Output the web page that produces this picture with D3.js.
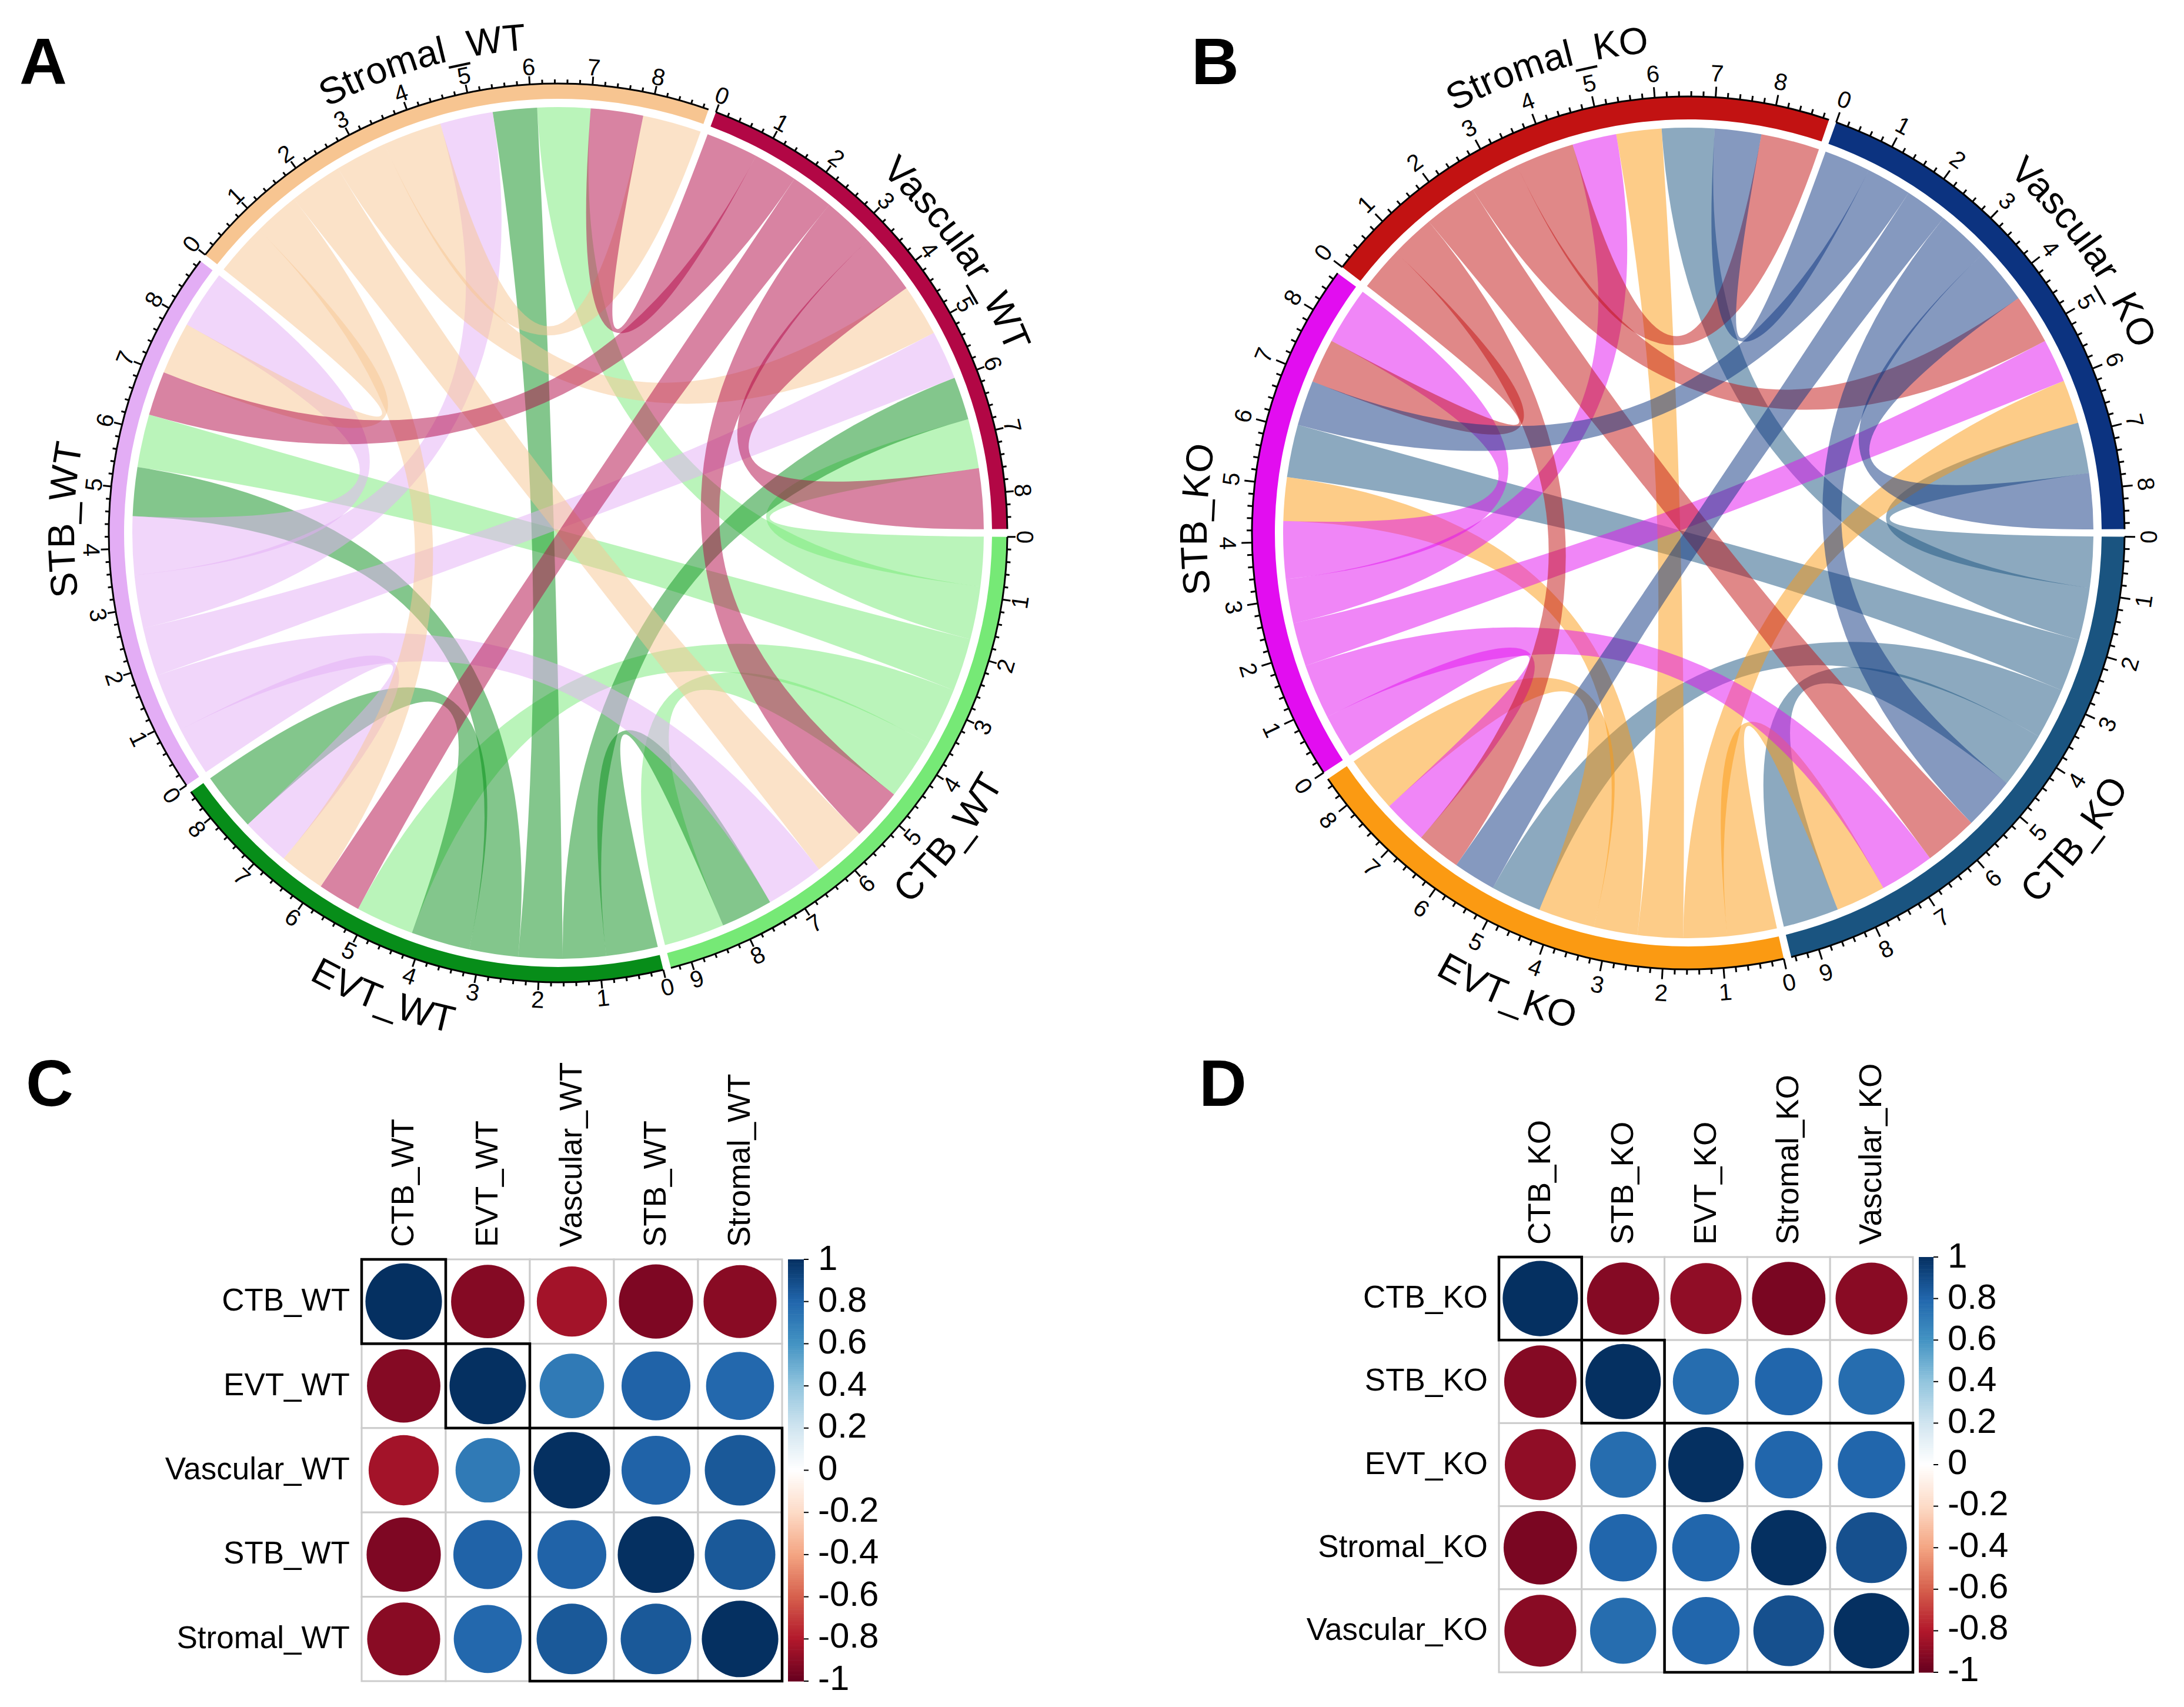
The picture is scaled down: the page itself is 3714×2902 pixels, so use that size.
<!DOCTYPE html>
<html><head><meta charset="utf-8">
<script src="https://cdn.jsdelivr.net/npm/d3@7"></script>
<style>html,body{margin:0;padding:0;background:#fff}svg{display:block}text{font-family:"Liberation Sans",Arial,sans-serif;fill:#000}</style>
</head><body>
<svg id="chart" width="3714" height="2902" viewBox="0 0 3714 2902"></svg>
<script>
// ---- chord data: sector order runs clockwise from east; row = from, column = to
const sectorsWT = ["CTB_WT","EVT_WT","STB_WT","Stromal_WT","Vascular_WT"];
const sectorsKO = ["CTB_KO","EVT_KO","STB_KO","Stromal_KO","Vascular_KO"];
const colorsWT = ["#76E976","#078D19","#E3ADF5","#F7C591","#B20745"];
const colorsKO = ["#1A5480","#FB9A12","#E20DF0","#C21212","#0C3380"];
const wtCTB = [1.03,0.99,0.90,0.90,0.84];
const wtEVT = [0.88,1.00,0.83,0.75,0.73];
const wtSTB = [0.99,0.83,0.99,0.90,0.83];
const wtStromal = [0.90,0.78,0.89,1.00,0.88];
const wtVascular = [0.88,0.73,0.75,0.89,1.03];
const koCTB = [1.00,0.91,0.94,0.94,0.91];
const koEVT = [0.89,1.01,0.78,0.81,0.78];
const koSTB = [0.98,0.79,1.03,0.79,0.78];
const koStromal = [0.96,0.79,0.79,1.05,0.89];
const koVascular = [0.94,0.76,0.81,0.83,1.00];
// ---- correlation data
const corrLabelsWT = ["CTB_WT","EVT_WT","Vascular_WT","STB_WT","Stromal_WT"];
const corrLabelsKO = ["CTB_KO","STB_KO","EVT_KO","Stromal_KO","Vascular_KO"];
const corrWT1 = [1,-0.92,-0.84,-0.94,-0.91];
const corrWT2 = [-0.92,1,0.71,0.81,0.79];
const corrWT3 = [-0.84,0.71,1,0.81,0.85];
const corrWT4 = [-0.94,0.81,0.81,1,0.85];
const corrWT5 = [-0.91,0.79,0.85,0.85,1];
const corrKO1 = [1,-0.92,-0.89,-0.95,-0.91];
const corrKO2 = [-0.92,1,0.77,0.80,0.77];
const corrKO3 = [-0.89,0.77,1,0.80,0.80];
const corrKO4 = [-0.95,0.80,0.80,1,0.88];
const corrKO5 = [-0.91,0.77,0.80,0.88,1];
const clusterSizes = [1,1,3];
const legendTicks = [1,0.8,0.6,0.4,0.2,0,-0.2,-0.4,-0.6,-0.8,-1];
const rdBuStops = ["#67001F","#B2182B","#D6604D","#F4A582","#FDDBC7","#FFFFFF","#D1E5F0","#92C5DE","#4393C3","#2166AC","#053061"];
const panelLetters = ["A","B","C","D"];

const svg = d3.select("#chart");
const rad = d => d*Math.PI/180;
const FONT_DIGIT = 40, FONT_NAME = 64;

function chordPanel(cfg){
  const g = svg.append("g").attr("transform",`translate(${cfg.cx},${cfg.cy})`);
  const n = cfg.names.length, M = cfg.matrix;
  // order of bands inside a sector: the other sectors going anticlockwise, then itself
  const order = i => [1,2,3,4,0].map(k => (i-k+n)%n);
  const totals = d3.range(n).map(i => d3.sum(M[i]) + d3.sum(M,r=>r[i]));
  const gap = 1, degPerUnit = (360-gap*n)/d3.sum(totals);
  let start = gap/2;
  const sec = totals.map((t,i)=>{
    const s = d3.scaleLinear().domain([0,t]).range([start,start+t*degPerUnit]);
    start += t*degPerUnit+gap; return s;
  });
  // band ends
  const outEnd = {}, inEnd = {};
  d3.range(n).forEach(i=>{
    let u = 0;
    order(i).forEach(j=>{ outEnd[i+"_"+j]=[sec[i](u),sec[i](u+M[i][j])]; u+=M[i][j]; });
    order(i).forEach(j=>{ inEnd[j+"_"+i]=[sec[i](u),sec[i](u+M[j][i])]; u+=M[j][i]; });
  });
  const toEnd = e => ({startAngle:rad(e[0]+90),endAngle:rad(e[1]+90)});
  const ribbon = d3.ribbon().radius(cfg.rLink);
  const links = [];
  d3.range(n).forEach(i=>d3.range(n).forEach(j=>links.push({i,j})));
  g.append("g").selectAll("path").data(links).join("path")
    .attr("d",d=>ribbon({source:toEnd(outEnd[d.i+"_"+d.j]),target:toEnd(inEnd[d.i+"_"+d.j])}))
    .attr("fill",d=>cfg.colors[d.i]).attr("fill-opacity",0.5);
  // ring
  const arc = d3.arc();
  sec.forEach((s,i)=>{
    const [a0,a1]=s.range();
    g.append("path").attr("fill",cfg.colors[i]).attr("d",arc({innerRadius:cfg.rIn,outerRadius:cfg.rOut,startAngle:rad(a0+90),endAngle:rad(a1+90)}));
    const p=d3.path(); p.arc(0,0,cfg.rOut,rad(a0),rad(a1));
    g.append("path").attr("d",p.toString()).attr("fill","none").attr("stroke","#000").attr("stroke-width",3);
    // ticks
    const t = totals[i], minor = d3.range(0,Math.floor(t*5)+1).map(k=>k/5);
    minor.forEach(v=>{
      const isMajor = Math.abs(v-Math.round(v))<1e-6, th=rad(s(v)), L=isMajor?cfg.major:cfg.minor;
      g.append("line").attr("x1",cfg.rOut*Math.cos(th)).attr("y1",cfg.rOut*Math.sin(th))
        .attr("x2",(cfg.rOut+L)*Math.cos(th)).attr("y2",(cfg.rOut+L)*Math.sin(th))
        .attr("stroke","#000").attr("stroke-width",3);
      if(isMajor){
        const deg=((s(v)%360)+360)%360, rot=deg<180?deg-90:deg+90;
        g.append("text").attr("transform",`translate(${cfg.rDigit*Math.cos(th)},${cfg.rDigit*Math.sin(th)}) rotate(${rot})`)
          .attr("text-anchor","middle").attr("dominant-baseline","central").attr("font-size",FONT_DIGIT).text(Math.round(v));
      }
    });
    // sector name along the circle
    const mid=(a0+a1)/2, upper=mid>=180, id=`${cfg.id}-name-${i}`;
    const q=d3.path();
    if(upper) q.arc(0,0,cfg.rName-23,rad(mid-55),rad(mid+55));
    else q.arc(0,0,cfg.rName+23,rad(mid+55),rad(mid-55),true);
    g.append("path").attr("id",id).attr("d",q.toString()).attr("fill","none");
    g.append("text").attr("font-size",FONT_NAME).attr("text-anchor","middle")
      .append("textPath").attr("href","#"+id).attr("startOffset","50%").text(cfg.names[i]);
  });
}

chordPanel({id:"a",cx:949,cy:906,names:sectorsWT,colors:colorsWT,matrix:[wtCTB,wtEVT,wtSTB,wtStromal,wtVascular],
  rLink:724,rIn:738,rOut:764,major:14,minor:7,rDigit:794,rName:846});
chordPanel({id:"b",cx:2871,cy:906,names:sectorsKO,colors:colorsKO,matrix:[koCTB,koEVT,koSTB,koStromal,koVascular],
  rLink:689,rIn:703,rOut:742,major:18,minor:9,rDigit:783,rName:842});

const corrColor = d3.scaleLinear().domain(d3.range(11).map(i=>-1+i*0.2)).range(rdBuStops);

function corrPanel(cfg){
  const g = svg.append("g"), L = cfg.labels, idx=d3.range(L.length);
  const x = d3.scaleBand().domain(idx).range([cfg.x0,cfg.x1]);
  const y = d3.scaleBand().domain(idx).range([cfg.y0,cfg.y1]);
  const rS = d3.scaleSqrt().domain([0,1]).range([0,0.455*x.bandwidth()]);
  const cells = idx.flatMap(r=>idx.map(c=>({r,c,v:cfg.matrix[r][c]})));
  g.append("g").selectAll("rect").data(cells).join("rect")
    .attr("x",d=>x(d.c)).attr("y",d=>y(d.r)).attr("width",x.bandwidth()).attr("height",y.bandwidth())
    .attr("fill","#fff").attr("stroke","#CCCCCC").attr("stroke-width",3);
  g.append("g").selectAll("circle").data(cells).join("circle")
    .attr("cx",d=>x(d.c)+x.bandwidth()/2).attr("cy",d=>y(d.r)+y.bandwidth()/2)
    .attr("r",d=>rS(Math.abs(d.v))).attr("fill",d=>corrColor(d.v));
  // cluster rectangles
  let k=0;
  cfg.clusters.forEach(s=>{
    g.append("rect").attr("x",x(k)).attr("y",y(k)).attr("width",s*x.bandwidth()).attr("height",s*y.bandwidth())
      .attr("fill","none").attr("stroke","#000").attr("stroke-width",4.5);
    k+=s;
  });
  // labels
  g.append("g").selectAll("text").data(idx).join("text")
    .attr("x",cfg.rowRight).attr("y",d=>y(d)+y.bandwidth()/2-3).attr("dominant-baseline","central")
    .attr("text-anchor","end").attr("font-size",53).text(d=>L[d]);
  g.append("g").selectAll("text").data(idx).join("text")
    .attr("transform",d=>`translate(${x(d)+x.bandwidth()/2-2},${cfg.colBottom}) rotate(-90)`)
    .attr("dominant-baseline","central").attr("font-size",53).text(d=>L[d]);
  // colour bar
  const by = d3.scaleLinear().domain([1,-1]).range([cfg.y0,cfg.y1]);
  const steps = d3.range(200).map(i=>1-(i+0.5)/100);
  g.append("g").selectAll("rect").data(steps).join("rect")
    .attr("x",cfg.barX).attr("y",d=>by(d+0.005)).attr("width",cfg.barW).attr("height",by(0)-by(0.01)+0.6)
    .attr("fill",d=>corrColor(d));
  const ly = d3.scaleLinear().domain([1,-1]).range([cfg.y0-3,cfg.y1-6]);
  g.append("g").selectAll("line").data(legendTicks).join("line")
    .attr("x1",cfg.barX+cfg.barW).attr("x2",cfg.barX+cfg.barW+8).attr("y1",d=>by(d)).attr("y2",d=>by(d))
    .attr("stroke","#000").attr("stroke-width",2);
  g.append("g").selectAll("text").data(legendTicks).join("text")
    .attr("x",cfg.barX+cfg.barW+24).attr("y",d=>ly(d)).attr("dominant-baseline","central")
    .attr("font-size",60).text(d=>d3.format("")(d).replace("\u2212","-"));
}

corrPanel({labels:corrLabelsWT,matrix:[corrWT1,corrWT2,corrWT3,corrWT4,corrWT5],clusters:clusterSizes,
  x0:615,x1:1330,y0:2141,y1:2858,rowRight:595,colBottom:2120,barX:1340,barW:27});
corrPanel({labels:corrLabelsKO,matrix:[corrKO1,corrKO2,corrKO3,corrKO4,corrKO5],clusters:clusterSizes,
  x0:2549,x1:3253,y0:2137,y1:2843,rowRight:2530,colBottom:2116,barX:3263,barW:25});

// panel letters
const letterX = [33,2026,44,2039], letterY = [143,143,1880,1880];
svg.append("g").selectAll("text").data(panelLetters).join("text")
  .attr("x",(d,i)=>letterX[i]).attr("y",(d,i)=>letterY[i])
  .attr("font-size",112).attr("font-weight",700).text(d=>d);
</script>
</body></html>
